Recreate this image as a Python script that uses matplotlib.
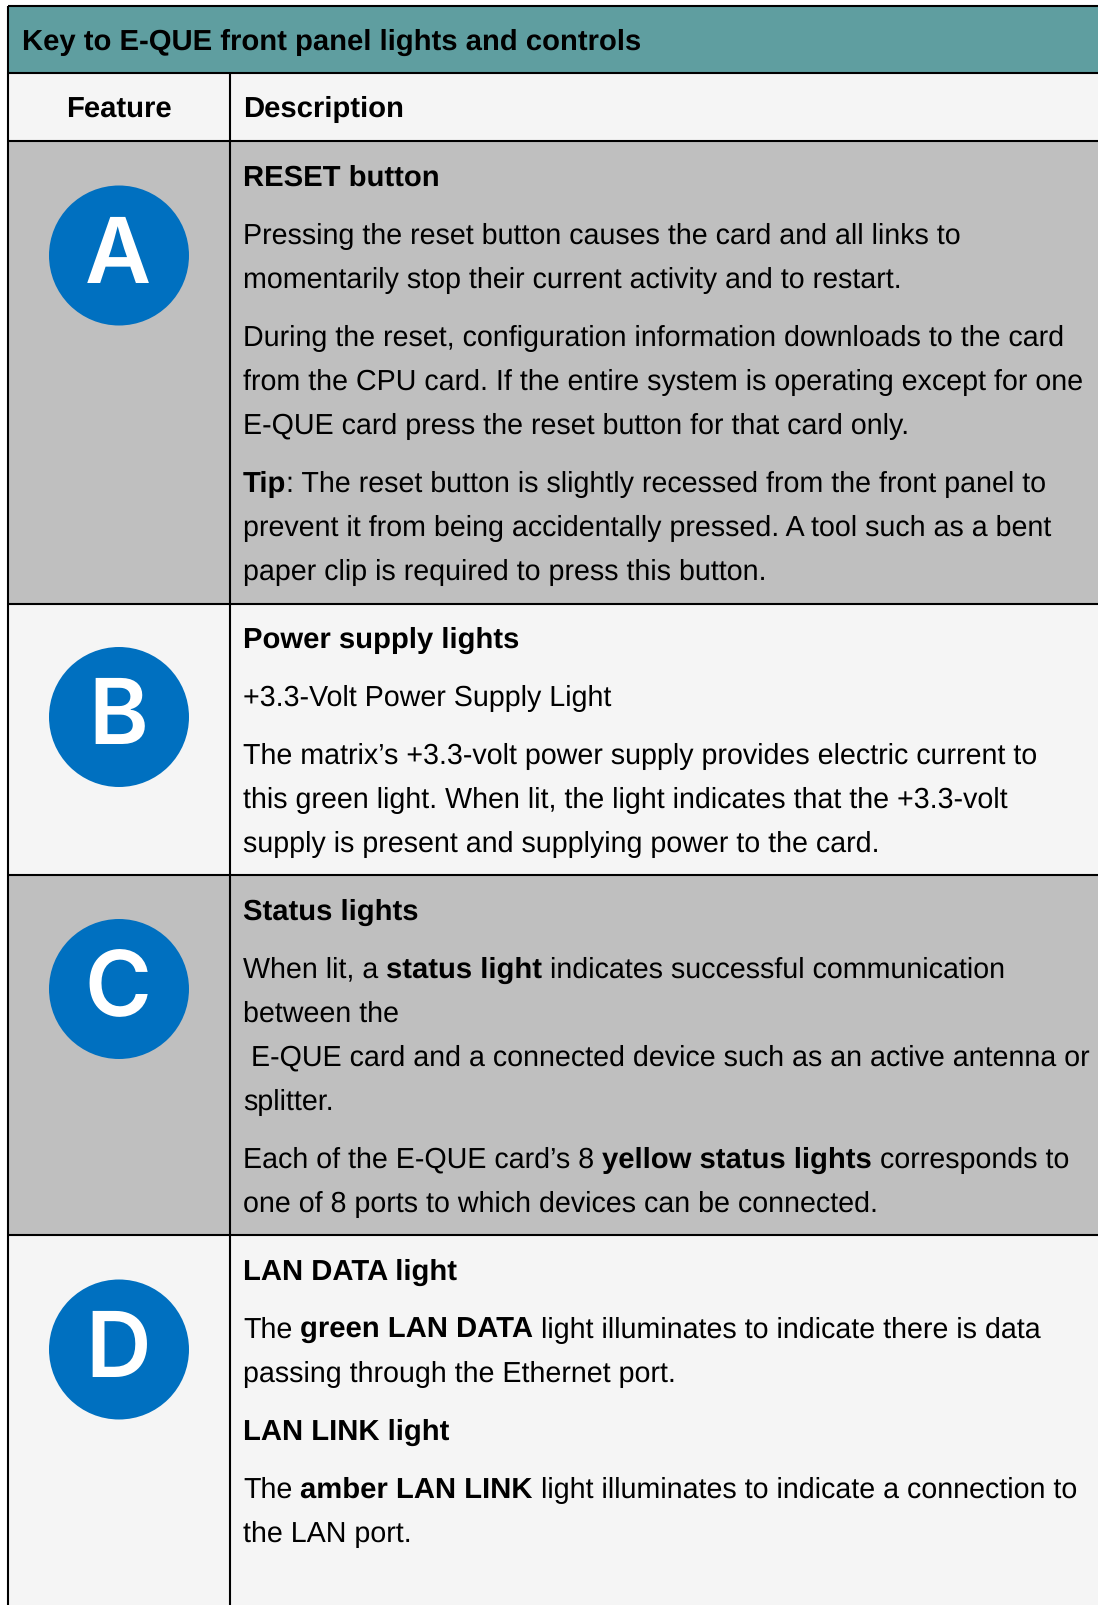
import matplotlib
matplotlib.use("Agg")
import matplotlib.pyplot as plt
from matplotlib.patches import Rectangle, Circle

W, H = 1098, 1606
TITLE = "Key to E-QUE front panel lights and controls"
COLUMNS = ["Feature", "Description"]
LETTERS = ["A", "B", "C", "D"]
ROW_EDGES = [142, 604.5, 876, 1236, 1620]
ROW_COLORS = ["#BFBFBF", "#F5F5F5", "#BFBFBF", "#F5F5F5"]
CIRCLE_Y = [256.5, 718, 990, 1350.5]
# Each line: baseline, list of (text, bold)
LINES = [
    (186, [("RESET button", True)]),
    (243.5, [("Pressing the reset button causes the card and all links to", False)]),
    (287.5, [("momentarily stop their current activity and to restart.", False)]),
    (345.5, [("During the reset, configuration information downloads to the card", False)]),
    (389.5, [("from the CPU card. If the entire system is operating except for one", False)]),
    (433.5, [("E-QUE card press the reset button for that card only.", False)]),
    (491.5, [("Tip", True), (": The reset button is slightly recessed from the front panel to", False)]),
    (535.5, [("prevent it from being accidentally pressed. A tool such as a bent", False)]),
    (579.5, [("paper clip is required to press this button.", False)]),
    (647.5, [("Power supply lights", True)]),
    (705.5, [("+3.3-Volt Power Supply Light", False)]),
    (763.5, [("The matrix\u2019s +3.3-volt power supply provides electric current to", False)]),
    (807.5, [("this green light. When lit, the light indicates that the +3.3-volt", False)]),
    (851.5, [("supply is present and supplying power to the card.", False)]),
    (919.5, [("Status lights", True)]),
    (977.5, [("When lit, a ", False), ("status light", True), (" indicates successful communication", False)]),
    (1021.5, [("between the", False)]),
    (1065.5, [(" E-QUE card and a connected device such as an active antenna or", False)]),
    (1109.5, [("splitter.", False)]),
    (1167.5, [("Each of the E-QUE card\u2019s 8 ", False), ("yellow status lights", True), (" corresponds to", False)]),
    (1211.5, [("one of 8 ports to which devices can be connected.", False)]),
    (1279.5, [("LAN DATA light", True)]),
    (1337.5, [("The ", False), ("green LAN DATA", True), (" light illuminates to indicate there is data", False)]),
    (1381.5, [("passing through the Ethernet port.", False)]),
    (1439.5, [("LAN LINK light", True)]),
    (1497.5, [("The ", False), ("amber LAN LINK", True), (" light illuminates to indicate a connection to", False)]),
    (1541.5, [("the LAN port.", False)]),
]

plt.rcParams["font.family"] = ["Liberation Sans", "DejaVu Sans"]
plt.rcParams["text.hinting"] = "no_hinting"
plt.rcParams["text.hinting_factor"] = 8
FS = 20.62
FB = 21.08
TC = "#000000"
fig = plt.figure(figsize=(W / 100, H / 100), dpi=100, facecolor="white")
ax = fig.add_axes([0, 0, 1, 1])
ax.set_xlim(0, W)
ax.set_ylim(H, 0)
ax.axis("off")

XL, XM, XR = 8, 230, 1120
YT, YH, YC = 6.5, 74, 142
ax.add_patch(Rectangle((XL, YT), XR - XL, YH - YT, fc="#5F9EA0", ec="none"))
ax.add_patch(Rectangle((XL, YH), XR - XL, YC - YH, fc="#F5F5F5", ec="none"))
for i, c in enumerate(ROW_COLORS):
    ax.add_patch(Rectangle((XL, ROW_EDGES[i]), XR - XL, ROW_EDGES[i + 1] - ROW_EDGES[i], fc=c, ec="none"))
LW = 1.5
for y in [YT, YH] + ROW_EDGES[:-1]:
    ax.plot([XL, XR], [y, y], color="black", lw=LW, solid_capstyle="butt")
ax.plot([XL, XL], [YT, H + 5], color="black", lw=LW, solid_capstyle="butt")
ax.plot([XM, XM], [YH, H + 5], color="black", lw=LW, solid_capstyle="butt")

ax.text(21.5, 50, TITLE, fontsize=FB, fontweight="bold", color=TC, va="baseline")
ax.text(118.5, 117.6, COLUMNS[0], fontsize=FB, fontweight="bold", color=TC, ha="center", va="baseline")
ax.text(243, 117.4, COLUMNS[1], fontsize=FB, fontweight="bold", color=TC, va="baseline")

for cy, letter in zip(CIRCLE_Y, LETTERS):
    ax.add_patch(Circle((119, cy), 70, fc="#0070C0", ec="none"))
    ax.text(118, cy + 26.5, letter, fontsize=65.4, family=["Inter", "Liberation Sans"], fontweight=600,
            color="white", ha="center", va="baseline")

fig.canvas.draw()
r = fig.canvas.get_renderer()
for y, runs in LINES:
    x = 243
    for s, bold in runs:
        lead = len(s) - len(s.lstrip(" "))
        trail = len(s) - len(s.rstrip(" "))
        w = "bold" if bold else "normal"
        fs = FB if bold else FS
        sp = ax.text(0, 0, "n n", fontsize=fs, fontweight=w)
        nn = ax.text(0, 0, "nn", fontsize=fs, fontweight=w)
        space = sp.get_window_extent(r).width - nn.get_window_extent(r).width
        sp.remove(); nn.remove()
        x += lead * space
        t = ax.text(x, y, s.strip(" "), fontsize=fs, fontweight=w, color=TC, va="baseline")
        x += t.get_window_extent(r).width + trail * space

fig.savefig("out.png", dpi=100)
